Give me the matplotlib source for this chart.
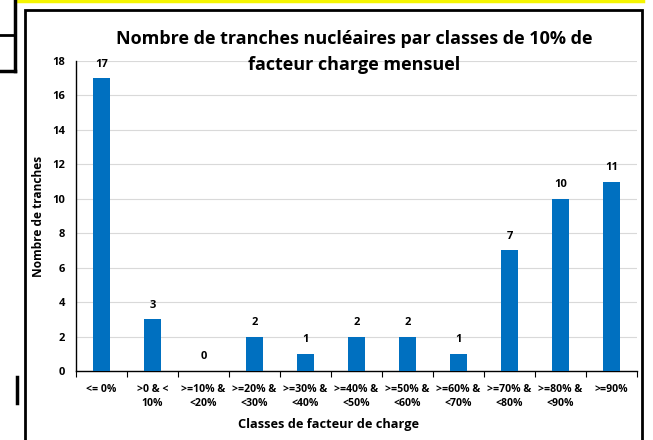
import matplotlib.pyplot as plt
from matplotlib.patches import Rectangle
from matplotlib.lines import Line2D

classes = ["<= 0%", ">0 & <\n10%", ">=10% &\n<20%", ">=20% &\n<30%", ">=30% &\n<40%",
           ">=40% &\n<50%", ">=50% &\n<60%", ">=60% &\n<70%", ">=70% &\n<80%",
           ">=80% &\n<90%", ">=90%"]
tranches = [17, 3, 0, 2, 1, 2, 2, 1, 7, 10, 11]

plt.rcParams['font.family'] = ['Open Sans', 'DejaVu Sans']

W, H = 653, 440
fig = plt.figure(figsize=(W / 100, H / 100), dpi=100)

# decorations around the chart (page borders)
fig.add_artist(Rectangle((25 / W, -0.05), (642 - 25) / W, 1.05 - 10 / H, transform=fig.transFigure,
                         fill=False, edgecolor='black', linewidth=2))
fig.add_artist(Line2D([18 / W, 643 / W], [1 - 1 / H, 1 - 1 / H], transform=fig.transFigure,
                      color='#f5f500', linewidth=2.5))
fig.add_artist(Line2D([15 / W, 15 / W], [1, 1 - 71 / H], transform=fig.transFigure, color='black', linewidth=2.5))
fig.add_artist(Line2D([0, 15 / W], [1 - 71 / H, 1 - 71 / H], transform=fig.transFigure, color='black', linewidth=2.5))
fig.add_artist(Line2D([0, 15 / W], [1 - 35 / H, 1 - 35 / H], transform=fig.transFigure, color='black', linewidth=2))
fig.add_artist(Line2D([16.5 / W, 16.5 / W], [1 - 377 / H, 1 - 403 / H], transform=fig.transFigure,
                      color='black', linewidth=2.5))

ax = fig.add_axes([76 / W, 1 - 371 / H, (637 - 76) / W, (371 - 61) / H])
x = range(len(classes))
ax.bar(x, tranches, width=0.35, color='#0070c0', zorder=3)
for xi, v in zip(x, tranches):
    ax.text(xi, v + 0.5, str(v), ha='center', va='bottom', fontsize=8, fontweight='bold')

ax.set_xlim(-0.5, len(classes) - 0.5)
ax.set_ylim(0, 18)
ax.set_yticks(range(0, 19, 2))
ax.tick_params(axis='y', length=0, labelsize=8, pad=8)
for lbl in ax.get_yticklabels():
    lbl.set_fontweight('bold')
ax.set_xticks([i - 0.5 for i in range(len(classes) + 1)], minor=False)
ax.set_xticklabels([])
ax.set_xticks(list(x), minor=True)
ax.set_xticklabels(classes, minor=True, fontsize=7.6, fontweight='bold', linespacing=1.45)
ax.tick_params(axis='x', which='major', length=4, direction='out', color='black')
ax.tick_params(axis='x', which='minor', length=0, pad=9)
ax.grid(axis='y', color='#d9d9d9', linewidth=0.8, zorder=0)
for s in ['top', 'right']:
    ax.spines[s].set_visible(False)
for s in ['bottom', 'left']:
    ax.spines[s].set_color('black')
    ax.spines[s].set_linewidth(1)

fig.text(38 / W, 1 - 216 / H, 'Nombre de tranches', rotation=90, ha='center', va='center',
         fontsize=8.6, fontweight='bold')
fig.text(329 / W, 1 - 424 / H, 'Classes de facteur de charge', ha='center', va='center',
         fontsize=9.2, fontweight='bold')
fig.text(354 / W, 1 - 52 / H, 'Nombre de tranches nucléaires par classes de 10% de\nfacteur charge mensuel',
         ha='center', va='center', fontsize=13, fontweight='bold', linespacing=1.6)

fig.savefig('out.png', dpi=100)
